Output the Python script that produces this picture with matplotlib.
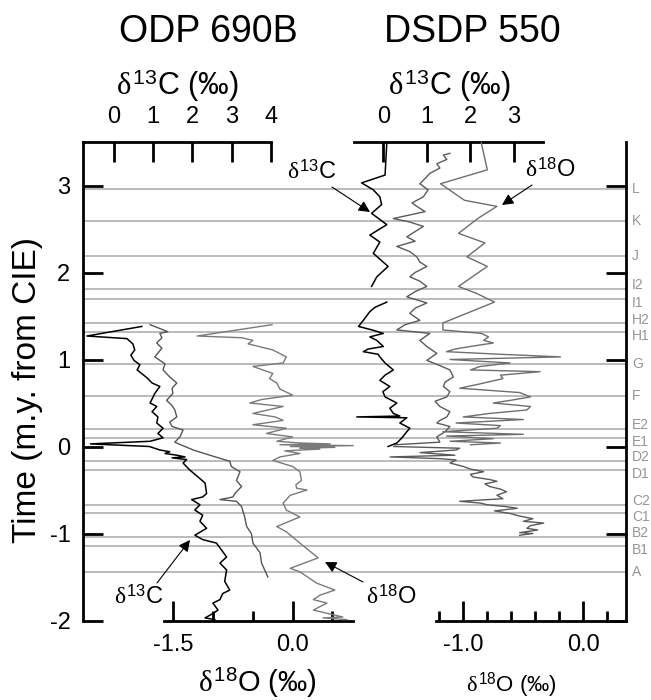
import numpy as np
import matplotlib
matplotlib.use("Agg")
import matplotlib.pyplot as plt

plt.rcParams['font.family'] = ['Liberation Sans', 'DejaVu Sans']
plt.rcParams['mathtext.fontset'] = 'custom'
plt.rcParams['mathtext.rm'] = 'Liberation Sans'
plt.rcParams['mathtext.it'] = 'Liberation Serif'
plt.rcParams['mathtext.bf'] = 'Liberation Sans:bold'
plt.rcParams['axes.unicode_minus'] = False

# ---------------- data ----------------
event_names = ["L", "K", "J", "I2", "I1", "H2", "H1", "G", "F", "E2", "E1",
               "D2", "D1", "C2", "C1", "B2", "B1", "A"]
event_times = [2.955, 2.588, 2.19, 1.81, 1.70, 1.414, 1.32, 0.945, 0.577, 0.203, 0.10,
               -0.164, -0.275, -0.67, -0.77, -1.04, -1.147, -1.437]

# ODP 690B  delta13C (black)
odp_c13_time = [1.38, 1.27, 1.24, 1.18, 1.11, 1.05, 0.99, 0.94, 0.88, 0.79, 0.73, 0.69, 0.61,
                0.50, 0.46, 0.40, 0.34, 0.27, 0.21, 0.15, 0.10, 0.06, 0.03, 0.00,
                -0.04, -0.06, -0.08, -0.10, -0.12, -0.13, -0.15, -0.19, -0.27, -0.35, -0.42,
                -0.54, -0.58, -0.61, -0.67, -0.73, -0.79, -0.86, -0.94, -1.02, -1.07, -1.11,
                -1.27, -1.34, -1.42, -1.55, -1.65, -1.69, -1.76, -1.80, -1.88, -1.92, -1.97, -1.99]
odp_c13 = [0.71, -0.69, 0.33, 0.48, 0.53, 0.43, 0.51, 0.66, 0.59, 0.84, 0.97, 1.17, 1.04,
           0.92, 1.09, 0.97, 1.12, 1.09, 1.25, 1.12, 1.25, 0.92, -0.60, 0.90,
           1.17, 1.42, 1.30, 1.60, 1.81, 1.48, 1.85, 1.76, 1.93, 2.14, 2.32,
           2.36, 2.26, 1.98, 2.19, 2.06, 2.26, 2.19, 2.36, 2.06, 2.26, 2.61,
           2.87, 2.70, 2.87, 2.82, 2.95, 2.77, 2.70, 2.52, 2.65, 2.52, 2.32, 2.57]

# ODP 690B  second delta13C record (dark grey)
odp_c13b_time = [1.40, 1.32, 1.30, 1.25, 1.19, 1.13, 1.03, 0.95, 0.88, 0.80, 0.73, 0.67, 0.61,
                 0.53, 0.47, 0.42, 0.34, 0.28, 0.23, 0.19, 0.11, 0.05, 0.02,
                 -0.04, -0.10, -0.17, -0.23, -0.29, -0.39, -0.46, -0.54, -0.58, -0.61, -0.63,
                 -0.69, -0.81, -0.92, -1.00, -1.11, -1.22, -1.34, -1.42, -1.50]
odp_c13b = [0.92, 1.37, 1.17, 1.22, 1.09, 1.22, 1.04, 1.30, 1.25, 1.42, 1.60, 1.48, 1.50,
            1.34, 1.48, 1.55, 1.60, 1.42, 1.48, 1.76, 1.68, 1.55, 1.70,
            2.02, 2.44, 2.95, 2.99, 3.21, 3.12, 3.25, 3.08, 3.03, 2.70, 3.12,
            3.25, 3.33, 3.38, 3.50, 3.54, 3.72, 3.76, 3.84, 3.92]

# ODP 690B  delta18O (grey)
odp_o18_time = [1.40, 1.27, 1.25, 1.22, 1.18, 1.11, 1.03, 0.96, 0.92, 0.84, 0.78, 0.73, 0.66,
                0.59, 0.54, 0.50, 0.46, 0.38, 0.34, 0.30, 0.25, 0.21, 0.19, 0.15, 0.11, 0.06,
                0.04, 0.03, 0.02, 0.01, 0.00, -0.01, -0.02, -0.03, -0.05, -0.08, -0.12, -0.16,
                -0.23, -0.29, -0.39, -0.44, -0.48, -0.50, -0.56, -0.65, -0.73, -0.81, -0.92,
                -0.98, -1.11, -1.28, -1.40, -1.44, -1.57, -1.65, -1.71, -1.76, -1.80, -1.88,
                -1.96, -1.97, -1.99]
odp_o18 = [-0.26, -1.20, -0.64, -0.50, -0.56, -0.25, -0.08, -0.12, -0.50, -0.25, -0.29, -0.20, -0.16,
           0.00, -0.39, -0.54, -0.12, -0.50, -0.22, -0.12, -0.50, -0.08, -0.16, -0.33, 0.00, -0.20,
           0.09, 0.47, -0.16, 0.76, -0.03, 0.53, 0.09, 0.34, -0.10, 0.09, -0.16, -0.25,
           0.00, 0.09, 0.11, 0.04, 0.05, 0.18, -0.03, -0.12, -0.08, 0.09, -0.20,
           -0.08, 0.09, 0.32, -0.03, 0.09, 0.30, 0.53, 0.34, 0.26, 0.43, 0.26,
           0.63, 0.38, 0.68]

# DSDP 550  delta13C (black)
dsdp_c13_time = [3.49, 3.12, 3.03, 2.95, 2.87, 2.78, 2.68, 2.55, 2.43, 2.35, 2.22, 2.07, 1.95, 1.84,
                 1.75,
                 1.66, 1.60, 1.55, 1.45, 1.38, 1.34, 1.30, 1.26, 1.22, 1.15, 1.12, 1.09, 1.06, 1.03,
                 0.96, 0.88, 0.82, 0.76, 0.69, 0.63, 0.57, 0.50, 0.44, 0.38, 0.35, 0.34, 0.33,
                 0.27, 0.21, 0.17, 0.10, 0.04, 0.00]
dsdp_c13 = [0.08, 0.04, -0.50, -0.23, -0.08, -0.04, -0.27, 0.08, -0.31, -0.08, -0.23, 0.11, -0.15, -0.27,
            np.nan,
            0.08, -0.19, -0.31, -0.46, -0.57, -0.26, 0.00, -0.31, -0.15, 0.00, -0.35, -0.46, -0.12, -0.08,
            0.04, 0.23, 0.04, -0.08, 0.15, -0.01, 0.04, 0.31, 0.15, 0.23, 0.38, -0.61, 0.54,
            0.38, 0.61, 0.54, 0.43, 0.31, 0.11]

# DSDP 550  second delta13C record (dark grey)
dsdp_c13b_time = [3.37, 3.35, 3.30, 3.25, 3.20, 3.14, 3.08, 3.02, 2.95, 2.87, 2.80, 2.76, 2.70, 2.62,
                  2.58, 2.53, 2.47, 2.41, 2.36, 2.30, 2.24, 2.18, 2.12, 2.07, 2.00, 1.95, 1.90, 1.84,
                  1.78, 1.72, 1.65, 1.59, 1.53, 1.45, 1.40, 1.34, 1.30, 1.22, 1.15, 1.07, 0.99, 0.93,
                  0.88, 0.80, 0.74, 0.69, 0.63, 0.57, 0.52, 0.46, 0.40, 0.34, 0.30, 0.27, 0.23, 0.17,
                  0.11, 0.05, 0.02]
dsdp_c13b = [1.53, 1.38, 1.46, 1.23, 1.30, 1.07, 0.96, 0.84, 1.03, 0.92, 0.66, 0.77, 0.96, 0.23,
             0.61, 0.92, 0.73, 0.54, 0.73, 0.31, 0.61, 0.77, 0.84, 1.00, 0.73, 0.61, 0.84, 1.00,
             0.73, 0.54, 1.00, 0.73, 0.61, 0.84, 0.50, 0.31, 1.07, 0.84, 1.00, 1.23, 1.00, 1.30,
             1.53, 1.61, 1.42, 1.38, 1.53, 1.46, 1.19, 1.30, 1.53, 1.46, 1.30, 1.23, 1.53, 1.42,
             1.23, 1.30, 0.27]

# DSDP 550  delta18O before CIE (grey)
dsdp_o18_time = [3.49, 3.18, 3.02, 2.83, 2.76, 2.62, 2.45, 2.34, 2.18, 2.07, 1.84, 1.76, 1.66,
                 1.42, 1.34, 1.30, 1.26, 1.22, 1.19, 1.15, 1.12, 1.09, 1.06, 1.03, 1.00, 0.96,
                 0.92, 0.88, 0.86, 0.82, 0.78, 0.72, 0.67, 0.62, 0.57, 0.53, 0.50, 0.46, 0.42,
                 0.38, 0.34, 0.31, 0.27, 0.24, 0.21, 0.17, 0.14, 0.12, 0.09, 0.06, 0.04, 0.02]
dsdp_o18 = [-0.85, -0.80, -1.19, -0.99, -0.72, -0.88, -1.04, -0.82, -0.97, -0.80, -1.04, -0.89, -0.74,
            -1.17, -1.17, -0.85, -0.79, -0.83, -0.75, -0.94, -1.07, -1.14, -0.69, -0.19, -1.11, -0.61,
            -0.86, -0.94, -0.36, -0.69, -0.67, -0.86, -1.03, -0.53, -0.44, -0.61, -0.75, -0.44, -0.47,
            -0.78, -1.00, -0.50, -1.06, -0.69, -0.72, -1.17, -0.50, -1.14, -0.75, -1.11, -0.69, -0.94]

# DSDP 550  delta18O after CIE (dark grey)
dsdp_o18b_time = [0.00, -0.02, -0.04, -0.07, -0.10, -0.12, -0.14, -0.155, -0.19, -0.23, -0.26,
                  -0.29, -0.32, -0.35, -0.38, -0.40, -0.43, -0.46, -0.49, -0.52, -0.56, -0.60,
                  -0.63, -0.65, -0.67, -0.69, -0.71, -0.74, -0.77, -0.80, -0.83, -0.86, -0.88,
                  -0.91, -0.94, -0.96, -0.99, -1.00, -1.02]
dsdp_o18b = [-1.58, -1.03, -1.06, -1.36, -1.07, -1.61, -1.19, -1.06, -1.11, -1.00, -0.94,
             -0.83, -0.94, -0.92, -0.78, -0.72, -0.82, -0.78, -0.69, -0.64, -0.72, -0.67,
             -1.03, -0.86, -0.80, -0.65, -0.55, -0.74, -0.61, -0.53, -0.42, -0.50, -0.33,
             -0.44, -0.47, -0.38, -0.53, -0.42, -0.53]

# ---------------- figure ----------------
W, H = 651, 700
fig = plt.figure(figsize=(W / 100, H / 100), dpi=100)
YTOP, YBOT = 142, 620.5
YLIM = (-2.0, 3.5)
SPW = 2.0
TL = 14.4


def rect(x0, x1):
    return [x0 / W, 1 - YBOT / H, (x1 - x0) / W, (YBOT - YTOP) / H]


def P(x, y):
    return (x / W, 1 - y / H)


def overlay(x0, x1, xlim):
    a = fig.add_axes(rect(x0, x1))
    a.patch.set_alpha(0)
    a.set_ylim(*YLIM)
    a.set_xlim(*xlim)
    for s in a.spines.values():
        s.set_visible(False)
    a.set_yticks([])
    return a


# main frame
ax = fig.add_axes(rect(83, 626))
ax.patch.set_alpha(0)
ax.set_xlim(0, 1)
ax.set_ylim(*YLIM)
ax.spines['top'].set_visible(False)
ax.spines['bottom'].set_visible(False)
ax.spines['left'].set_linewidth(SPW)
ax.spines['right'].set_linewidth(SPW)
ax.set_xticks([])
ax.set_yticks([-2, -1, 0, 1, 2, 3])
ax.tick_params(axis='y', direction='in', length=TL, width=SPW, labelsize=17, pad=9,
               left=True, right=True, labelright=False)
for i, (t, n) in enumerate(zip(event_times, event_names)):
    ax.axhline(t, color='#a8a8a8', lw=1.1, zorder=0)
    shift = 0.0
    if n.endswith("2"):
        shift = 0.045
    elif n.endswith("1"):
        shift = -0.045
    ax.text(1.011, t + shift, n, transform=ax.get_yaxis_transform(), fontsize=10,
            color='#959595', va='center', ha='left', linespacing=1.0)

# ODP 690B delta13C axis (top)
c1 = overlay(83, 271, (-0.789, 3.995))
c1.spines['top'].set_visible(True)
c1.spines['top'].set_linewidth(SPW)
c1.xaxis.tick_top()
c1.set_xticks([0, 1, 2, 3, 4])
c1.tick_params(axis='x', direction='in', length=TL, width=SPW, labelsize=17, pad=10)
c1.plot(odp_c13b, odp_c13b_time, color='#555555', lw=1.0, clip_on=False)
c1.plot(odp_c13, odp_c13_time, color='black', lw=1.1, clip_on=False)

# ODP 690B delta18O axis (bottom)
o1 = overlay(164, 353, (-1.617, 0.758))
o1.spines['bottom'].set_visible(True)
o1.spines['bottom'].set_linewidth(SPW)
o1.set_xticks([-1.5, 0.0])
o1.set_xticklabels(["-1.5", "0.0"])
o1.set_xticks([-1.0, -0.5, 0.5], minor=True)
o1.tick_params(axis='x', which='major', direction='in', length=TL, width=SPW, labelsize=17, pad=10)
o1.tick_params(axis='x', which='minor', direction='in', length=TL / 2, width=SPW)
o1.plot(odp_o18, odp_o18_time, color='#7a7a7a', lw=1.0, clip_on=False)

# DSDP 550 delta13C axis (top)
c2 = overlay(354, 543, (-0.674, 3.671))
c2.spines['top'].set_visible(True)
c2.spines['top'].set_linewidth(SPW)
c2.xaxis.tick_top()
c2.set_xticks([0, 1, 2, 3])
c2.tick_params(axis='x', direction='in', length=TL, width=SPW, labelsize=17, pad=10)
c2.plot(dsdp_c13b, dsdp_c13b_time, color='#5a5a5a', lw=1.0, clip_on=False)
c2.plot(dsdp_c13, dsdp_c13_time, color='black', lw=1.1, clip_on=False)

# DSDP 550 delta18O axis (bottom)
o2 = overlay(436, 626, (-1.2275, 0.3558))
o2.spines['bottom'].set_visible(True)
o2.spines['bottom'].set_linewidth(SPW)
o2.set_xticks([-1.0, 0.0])
o2.set_xticklabels(["-1.0", "0.0"])
o2.set_xticks([-1.2, -0.8, -0.6, -0.4, -0.2, 0.2], minor=True)
o2.tick_params(axis='x', which='major', direction='in', length=TL, width=SPW, labelsize=17, pad=10)
o2.tick_params(axis='x', which='minor', direction='in', length=TL / 2, width=SPW)
o2.plot(dsdp_o18, dsdp_o18_time, color='#6e6e6e', lw=1.0, clip_on=False)
o2.plot(dsdp_o18b, dsdp_o18b_time, color='#5a5a5a', lw=1.0, clip_on=False)

# titles and axis labels
fig.text(*P(208, 42), "ODP 690B", fontsize=27, ha='center', va='baseline')
fig.text(*P(472, 42), "DSDP 550", fontsize=27, ha='center', va='baseline')
fig.text(*P(177, 95), r"$\delta^{13}$C (‰)", fontsize=22, ha='center', va='baseline')
fig.text(*P(449, 95), r"$\delta^{13}$C (‰)", fontsize=22, ha='center', va='baseline')
fig.text(*P(257, 692), r"$\delta^{18}$O (‰)", fontsize=21, ha='center', va='baseline')
fig.text(*P(511, 692), r"$\delta^{18}$O (‰)", fontsize=16, ha='center', va='baseline')
fig.text(*P(28, 390), "Time (m.y. from CIE)", fontsize=24, rotation=90,
         ha='center', va='center')

# annotations with arrows
ann = [(r"$\delta^{13}$C", (312, 172), (332, 187), (370, 212)),
       (r"$\delta^{18}$O", (550, 170), (532, 185), (502, 205)),
       (r"$\delta^{13}$C", (139, 597), (157, 583), (190, 540)),
       (r"$\delta^{18}$O", (391, 597), (363, 582), (325, 562))]
for label, tpos, tail, tip in ann:
    fig.text(*P(*tpos), label, fontsize=17, ha='center', va='center')
    fig.add_artist(matplotlib.patches.FancyArrowPatch(
        P(*tail), P(*tip), transform=fig.transFigure, arrowstyle='-|>',
        mutation_scale=17, color='black', lw=0.8, shrinkA=0, shrinkB=0))

fig.savefig("out.png", dpi=100)
